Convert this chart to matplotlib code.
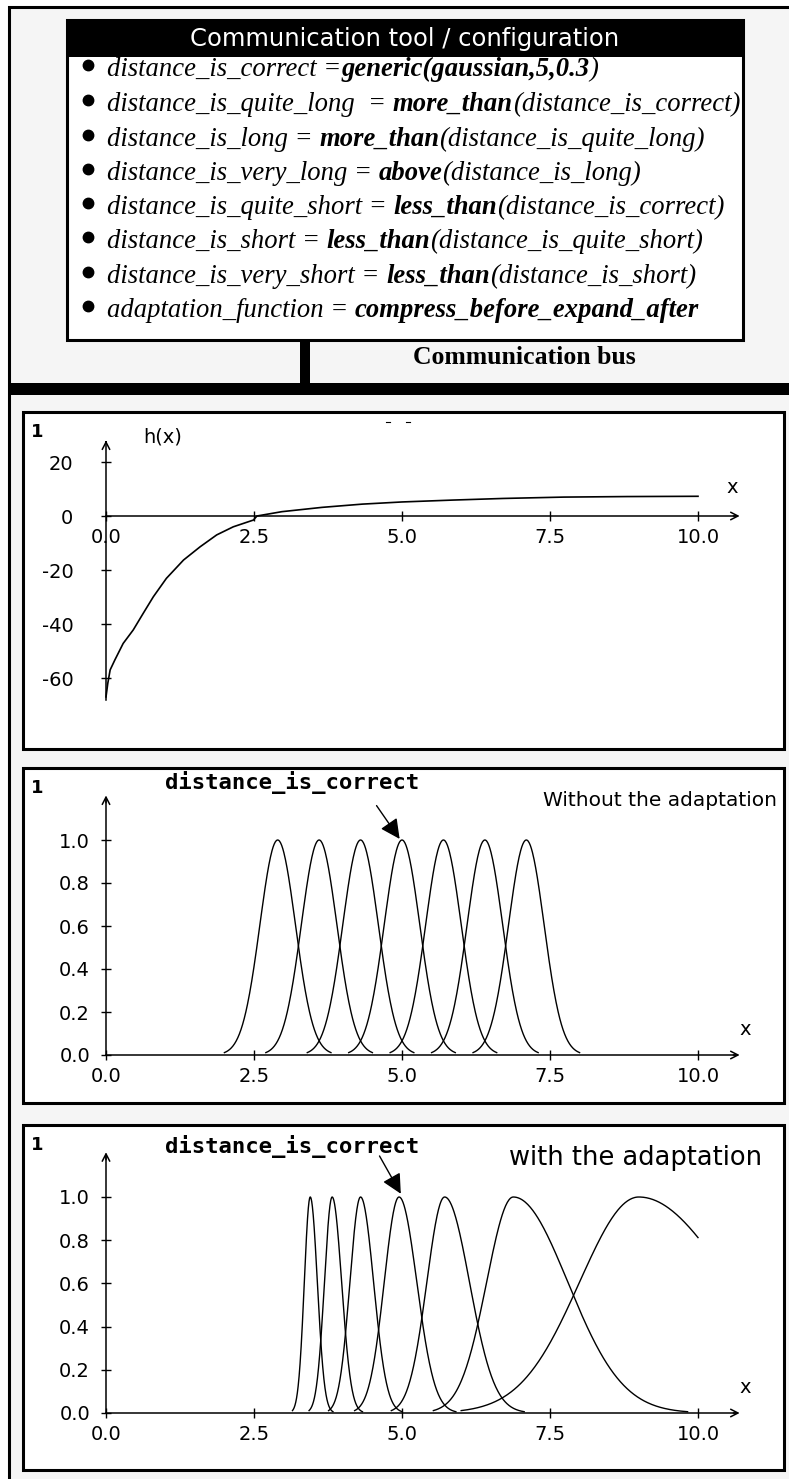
import numpy as np
import matplotlib.pyplot as plt
from matplotlib.patches import Rectangle

plt.rcParams['font.family'] = ['DejaVu Sans']

# ---- data ----
config_lines = [
    [("distance_is_correct =", False), ("generic(gaussian,5,0.3", True), (")", False)],
    [("distance_is_quite_long  = ", False), ("more_than", True), ("(distance_is_correct)", False)],
    [("distance_is_long = ", False), ("more_than", True), ("(distance_is_quite_long)", False)],
    [("distance_is_very_long = ", False), ("above", True), ("(distance_is_long)", False)],
    [("distance_is_quite_short = ", False), ("less_than", True), ("(distance_is_correct)", False)],
    [("distance_is_short = ", False), ("less_than", True), ("(distance_is_quite_short)", False)],
    [("distance_is_very_short = ", False), ("less_than", True), ("(distance_is_short)", False)],
    [("adaptation_function = ", False), ("compress_before_expand_after", True)],
]

# h(x) curve
h_x = [0.0, 0.03, 0.07, 0.15, 0.29, 0.46, 0.63, 0.80, 1.02, 1.31, 1.59, 1.87, 2.15, 2.49,
       2.55, 2.97, 3.65, 4.33, 5.0, 5.86, 6.71, 7.73, 8.8, 10.0]
h_y = [-67, -62, -57, -53.3, -47.2, -42.2, -36, -29.9, -23.1, -16.3, -11.4, -7, -4, -1.5,
       0.0, 1.6, 3.2, 4.4, 5.2, 5.9, 6.5, 7.0, 7.2, 7.3]

x_ticks = [0.0, 2.5, 5.0, 7.5, 10.0]
x_ticklabels = ["0.0", "2.5", "5.0", "7.5", "10.0"]
h_ticks = [20, 0, -20, -40, -60]
mu_ticks = [0.0, 0.2, 0.4, 0.6, 0.8, 1.0]

# membership functions without adaptation: gaussian centres / width
plain_centres = [2.9, 3.6, 4.3, 5.0, 5.7, 6.4, 7.1]
plain_sigma = 0.3

# with adaptation: centres, left and right widths
adapt_centres = [3.45, 3.82, 4.30, 4.95, 5.72, 6.88, 9.00]
adapt_sig_left = [0.10, 0.13, 0.18, 0.25, 0.30, 0.45, 1.00]
adapt_sig_right = [0.12, 0.16, 0.22, 0.30, 0.42, 0.92, 1.55]

W, H = 789, 1479
fig = plt.figure(figsize=(W / 100, H / 100), dpi=100)
fig.patch.set_facecolor('white')
cv = fig.add_axes([0, 0, 1, 1])
cv.set_xlim(0, W)
cv.set_ylim(H, 0)
cv.axis('off')


def rect(x, y, w, h, fc, ec='none', lw=0, z=1):
    cv.add_patch(Rectangle((x, y), w, h, facecolor=fc, edgecolor=ec, linewidth=lw, zorder=z))


# background frame
rect(9, 7, W, H, '#f5f5f5')
cv.plot([9, 9, W], [H, 7, 7], color='black', lw=2.2, solid_joinstyle='miter', zorder=2)

# configuration box
rect(300, 336, 10, 50, 'black', z=2)
rect(67, 20, 676, 320, 'white', 'black', 2.2, z=3)
rect(67, 20, 676, 37, 'black', z=4)
rect(9, 383, W, 12, 'black', z=2)
cv.text(405, 39, "Communication tool / configuration", color='white', fontsize=17.5,
        ha='center', va='center', zorder=5)
cv.text(524, 357, "Communication bus", family='Liberation Serif', fontweight='bold',
        fontsize=18.5, ha='center', va='center', zorder=5)

rend = fig.canvas.get_renderer()


def width_of(s, bold, fs):
    t = cv.text(0, 0, s + "|", family='Liberation Serif', style='italic',
                fontweight='bold' if bold else 'normal', fontsize=fs)
    t2 = cv.text(0, 0, "|", family='Liberation Serif', style='italic',
                 fontweight='bold' if bold else 'normal', fontsize=fs)
    w = t.get_window_extent(rend).width - t2.get_window_extent(rend).width
    t.remove()
    t2.remove()
    return w


base = 18
total = sum(width_of(s, b, base) for s, b in config_lines[1])
fs = base * 633 / total

row_y = [65, 100, 135, 169, 203, 237, 272, 306]
for y, pieces in zip(row_y, config_lines):
    cv.plot(88, y, 'o', color='black', ms=7.5, zorder=5)
    x = 107
    for s, b in pieces:
        cv.text(x, y + 11, s, family='Liberation Serif', style='italic',
                fontweight='bold' if b else 'normal', fontsize=fs,
                ha='left', va='baseline', zorder=5)
        x += width_of(s, b, fs)

# ---- chart panels ----
X0, XS = 106, 59.2


def panel(top, height, zero, scale, num):
    rect(23, top, 761, height, 'white', 'black', 2.2, z=3)
    ax = fig.add_axes([23 / W, 1 - (top + height) / H, 761 / W, height / H], zorder=5)
    ax.set_xlim((23 - X0) / XS, (784 - X0) / XS)
    ax.set_ylim((zero - top - height) / scale, (zero - top) / scale)
    ax.patch.set_visible(False)
    for s in ['top', 'right']:
        ax.spines[s].set_visible(False)
    for s in ['left', 'bottom']:
        ax.spines[s].set_position(('data', 0))
        ax.spines[s].set_linewidth(1.1)
    ax.spines['bottom'].set_bounds(0, 10.65)
    ax.set_xticks(x_ticks)
    ax.set_xticklabels(x_ticklabels)
    ax.tick_params(direction='inout', length=7, width=1, labelsize=14, pad=4)
    ax.tick_params(axis='x', pad=5)
    ax.annotate('', xy=(10.75, 0), xytext=(10.55, 0),
                arrowprops=dict(arrowstyle='->,head_length=0.35,head_width=0.18',
                                lw=1.1, color='black', mutation_scale=15))
    cv.text(31, top + 20, num, fontsize=13, fontweight='bold', ha='left', va='center', zorder=6)
    return ax


# panel 1 : h(x)
ax1 = panel(412, 337, 516, 2.7, "1")
ax1.plot(h_x, h_y, color='black', lw=1.2)
ax1.spines['left'].set_bounds(-68, 27.5)
ax1.annotate('', xy=(0, 29.0), xytext=(0, 26.0),
             arrowprops=dict(arrowstyle='->,head_length=0.35,head_width=0.18',
                             lw=1.1, color='black', mutation_scale=15))
ax1.set_yticks(h_ticks)
ax1.set_yticklabels([str(v) for v in h_ticks])
ax1.tick_params(axis='y', pad=20)
ax1.text(0.96, 29.3, "h(x)", fontsize=14, ha='center', va='center')
ax1.text(10.57, 10.7, "x", fontsize=14, ha='center', va='center')
cv.plot([386, 390], [422, 422], color='black', lw=0.8, zorder=6)
cv.plot([406, 410], [422, 422], color='black', lw=0.8, zorder=6)


def mu_axes(ax, label, label_x, label_y, label_fs, name_y, start, tip):
    ax.spines['left'].set_bounds(0, 1.19)
    ax.annotate('', xy=(0, 1.22), xytext=(0, 1.16),
                arrowprops=dict(arrowstyle='->,head_length=0.35,head_width=0.18',
                                lw=1.1, color='black', mutation_scale=15))
    ax.set_yticks(mu_ticks)
    ax.set_yticklabels(["%.1f" % v for v in mu_ticks])
    ax.tick_params(axis='y', pad=8)
    ax.text(10.8, 0.12, "x", fontsize=14, ha='center', va='center')
    ax.text(label_x, label_y, label, fontsize=label_fs, ha='right', va='center')
    ax.text(1.0, name_y, "distance_is_correct", family='DejaVu Sans Mono',
            fontweight='bold', fontsize=16, ha='left', va='center')
    ax.annotate('', xy=tip, xytext=start,
                arrowprops=dict(arrowstyle='-|>,head_length=0.6,head_width=0.3',
                                lw=1, color='black', mutation_scale=20, shrinkA=0, shrinkB=0))


# panel 2 : without adaptation
ax2 = panel(768, 335, 1055, 215, "1")
mu_axes(ax2, "Without the adaptation", (777 - X0) / XS, (1055 - 800) / 215, 14.5,
        (1055 - 782) / 215, (4.57, 1.16), (4.96, 1.005))
for c in plain_centres:
    xs = np.linspace(c - 3 * plain_sigma, c + 3 * plain_sigma, 200)
    ax2.plot(xs, np.exp(-0.5 * ((xs - c) / plain_sigma) ** 2), color='black', lw=1.0)

# panel 3 : with adaptation
ax3 = panel(1125, 345, 1413, 216, "1")
mu_axes(ax3, "with the adaptation", (762 - X0) / XS, (1413 - 1158) / 216, 18.5,
        (1413 - 1147) / 216, (4.62, 1.19), (4.98, 1.015))
for c, sl, sr in zip(adapt_centres, adapt_sig_left, adapt_sig_right):
    xs = np.linspace(max(c - 3 * sl, 0), min(c + 3.2 * sr, 10), 300)
    sig = np.where(xs < c, sl, sr)
    ax3.plot(xs, np.exp(-0.5 * ((xs - c) / sig) ** 2), color='black', lw=1.0)

fig.savefig('out.png', dpi=100)
